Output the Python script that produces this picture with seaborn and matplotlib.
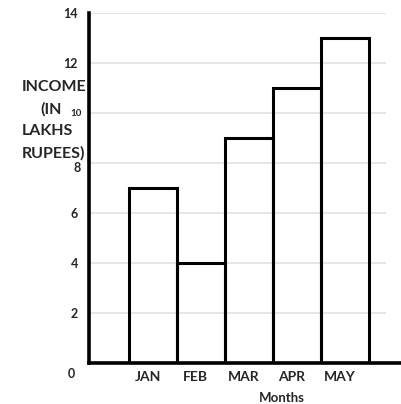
import matplotlib
matplotlib.use("Agg")
import matplotlib.pyplot as plt
import matplotlib.transforms as mtransforms
import seaborn as sns
import pandas as pd

# datos
meses = ["JAN", "FEB", "MAR", "APR", "MAY"]
ingresos = [7, 4, 9, 11, 13]
marcas_y = [0, 2, 4, 6, 8, 10, 12, 14]
lineas_etiqueta = ["INCOME", "(IN", "LAKHS", "RUPEES)"]

sns.set_style("white")
plt.rcParams['font.family'] = ['Lato', 'DejaVu Sans']

df = pd.DataFrame({"mes": meses, "ingreso": ingresos})

fig = plt.figure(figsize=(4.01, 4.04), dpi=100)
ax = fig.add_axes([89 / 401, 41 / 404, 312 / 401, 350 / 404])

# lineas de cuadricula grises
ax.hlines(marcas_y[1:], -1.33, 4.85, color="#e2e2e2", lw=1.2, zorder=0)

sns.barplot(data=df, x="mes", y="ingreso", ax=ax, width=1.0, fill=False,
            color="black", linewidth=2.2, zorder=2)

ax.set_xlim(-1.33, 5.17)
ax.set_ylim(0, 14)

for lado in ["top", "right"]:
    ax.spines[lado].set_visible(False)
for lado in ["left", "bottom"]:
    ax.spines[lado].set_color("black")
    ax.spines[lado].set_linewidth(2.6)

ax.set_yticks(marcas_y)
ax.set_yticklabels([str(v) for v in marcas_y], fontsize=9, fontweight="bold")
ax.tick_params(axis="y", length=0, pad=8)
ax.tick_params(axis="x", length=0, pad=6)
ax.set_xticks(range(len(meses)))
ax.set_xticklabels(meses, fontsize=10, fontweight="bold")

# pequeños desplazamientos de etiquetas como en la imagen
for etq in ax.get_xticklabels():
    etq.set_transform(etq.get_transform() + mtransforms.ScaledTranslation(-5 / 100, 0, fig.dpi_scale_trans))
etqs_y = ax.get_yticklabels()
etqs_y[0].set_transform(etqs_y[0].get_transform() + mtransforms.ScaledTranslation(-3 / 100, -10 / 100, fig.dpi_scale_trans))
etqs_y[4].set_transform(etqs_y[4].get_transform() + mtransforms.ScaledTranslation(3 / 100, -4 / 100, fig.dpi_scale_trans))
etqs_y[5].set_fontsize(7)
etqs_y[5].set_transform(etqs_y[5].get_transform() + mtransforms.ScaledTranslation(4 / 100, 0, fig.dpi_scale_trans))

ax.set_xlabel("")
ax.set_ylabel("")

# etiqueta del eje y, una linea por texto
x_lineas = [22, 40, 22, 22]
for i, (txt, xl) in enumerate(zip(lineas_etiqueta, x_lineas)):
    fig.text(xl / 401, 1 - (80 + 22 * i) / 404, txt, ha="left", va="top",
             fontsize=11.5, fontweight="bold")
fig.text(282 / 401, 1 - 398 / 404, "Months", ha="center", va="center",
         fontsize=9.5, fontweight="bold")

fig.savefig("out.png", dpi=100, facecolor="white")
